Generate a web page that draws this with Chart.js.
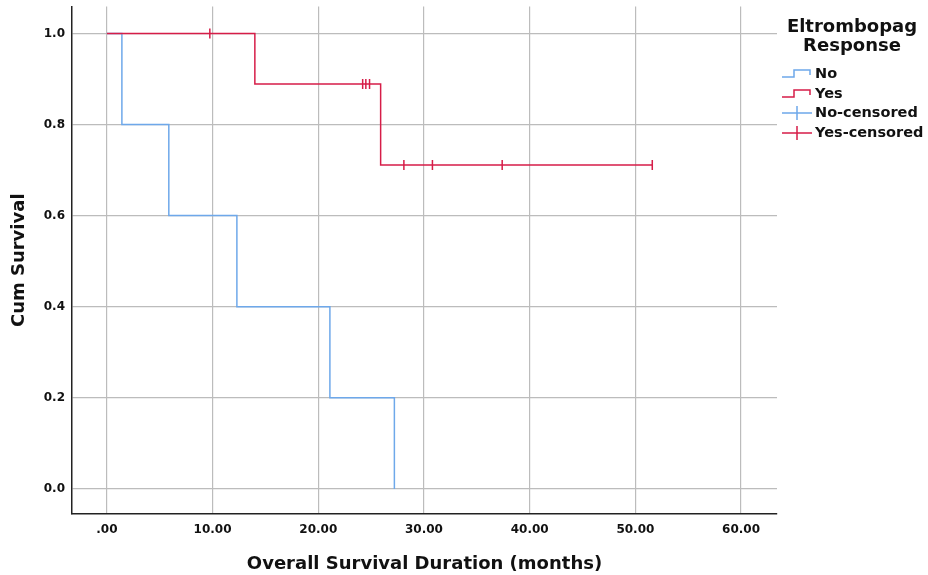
<!DOCTYPE html>
<html>
<head>
<meta charset="utf-8">
<script src="https://cdn.jsdelivr.net/npm/chart.js@4.4.1/dist/chart.umd.min.js"></script>
<style>
  html, body { margin: 0; padding: 0; background: #fff; }
  #wrap { width: 928px; height: 575px; position: relative; }
</style>
</head>
<body>
<div id="wrap"><canvas id="km"></canvas></div>
<script>
// ─── Data ────────────────────────────────────────────────────
const noTimes = [0, 1.42, 5.86, 12.3, 21.1, 27.2];
const noSurv = [1.0, 0.8, 0.6, 0.4, 0.2, 0.0];
const yesTimes = [0, 14.0, 25.9, 51.6];
const yesSurv = [1.0, 0.889, 0.711, 0.711];
const yesCensTimes = [9.74, 24.2, 24.5, 24.85, 28.1, 30.8, 37.4, 51.6];
const yesCensSurv = [1.0, 0.889, 0.889, 0.889, 0.711, 0.711, 0.711, 0.711];
const xTicks = [0, 10, 20, 30, 40, 50, 60];
const yTicks = [0, 0.2, 0.4, 0.6, 0.8, 1.0];
const legendLabels = ['No', 'Yes', 'No-censored', 'Yes-censored'];

const BLUE = '#6ea8ea';
const RED = '#d61d48';
const GRID = '#bcbcbc';
const FONT = "'DejaVu Sans', sans-serif";

const pts = (xs, ys) => xs.map((x, i) => ({ x, y: ys[i] }));

// ─── Legend drawn on the canvas ──────────────────────────────
const kmLegend = {
  id: 'kmLegend',
  afterDraw(chart) {
    const { ctx } = chart;
    ctx.save();
    ctx.fillStyle = '#111';
    ctx.textAlign = 'center';
    ctx.textBaseline = 'middle';
    ctx.font = `bold 18px ${FONT}`;
    ctx.fillText('Eltrombopag', 852, 27);
    ctx.fillText('Response', 852, 46);

    const rows = [74, 94, 113, 133];
    ctx.lineWidth = 1.5;
    // No / Yes step samples
    [[BLUE, rows[0]], [RED, rows[1]]].forEach(([c, y]) => {
      ctx.strokeStyle = c;
      ctx.beginPath();
      ctx.moveTo(782, y + 3);
      ctx.lineTo(794, y + 3);
      ctx.lineTo(794, y - 4);
      ctx.lineTo(810, y - 4);
      ctx.lineTo(810, y + 1);
      ctx.stroke();
    });
    // censored samples
    [[BLUE, rows[2]], [RED, rows[3]]].forEach(([c, y]) => {
      ctx.strokeStyle = c;
      ctx.beginPath();
      ctx.moveTo(782, y);
      ctx.lineTo(812, y);
      ctx.moveTo(797, y - 7);
      ctx.lineTo(797, y + 7);
      ctx.stroke();
    });

    ctx.fillStyle = '#111';
    ctx.textAlign = 'left';
    ctx.font = `bold 14.5px ${FONT}`;
    legendLabels.forEach((t, i) => ctx.fillText(t, 815, rows[i]));
    ctx.restore();
  }
};

new Chart(document.getElementById('km'), {
  type: 'scatter',
  data: {
    datasets: [
      {
        label: 'Yes-censored',
        data: pts(yesCensTimes, yesCensSurv),
        pointStyle: 'line',
        rotation: 90,
        radius: 5,
        borderWidth: 1.5,
        borderColor: RED,
        backgroundColor: RED,
        showLine: false,
        order: 0
      },
      {
        label: 'Yes',
        data: pts(yesTimes, yesSurv),
        showLine: true,
        stepped: 'before',
        borderColor: RED,
        borderWidth: 1.5,
        pointRadius: 0,
        order: 1
      },
      {
        label: 'No',
        data: pts(noTimes, noSurv),
        showLine: true,
        stepped: 'before',
        borderColor: BLUE,
        borderWidth: 1.5,
        pointRadius: 0,
        order: 2
      }
    ]
  },
  options: {
    responsive: true,
    maintainAspectRatio: false,
    animation: false,
    layout: { padding: { top: 6, right: 151, left: 0, bottom: 0 } },
    plugins: {
      legend: { display: false },
      tooltip: { enabled: false }
    },
    scales: {
      x: {
        type: 'linear',
        min: -3.3,
        max: 63.4,
        afterFit: s => { s.height = 61; },
        afterBuildTicks: s => { s.ticks = xTicks.map(v => ({ value: v })); },
        grid: { color: GRID, lineWidth: 1.2, drawTicks: false },
        border: { display: true, color: '#222', width: 1.5 },
        ticks: {
          padding: 9,
          color: '#111',
          font: { family: FONT, size: 12, weight: 'bold' },
          callback: v => v === 0 ? '.00' : v.toFixed(2)
        },
        title: {
          display: true,
          text: 'Overall Survival Duration (months)',
          color: '#111',
          font: { family: FONT, size: 18, weight: 'bold' },
          padding: { top: 0, bottom: 0 }
        }
      },
      y: {
        type: 'linear',
        min: -0.055,
        max: 1.059,
        afterFit: s => { s.width = 72; s.paddingTop = 0; s.paddingBottom = 0; },
        afterBuildTicks: s => { s.ticks = yTicks.map(v => ({ value: v })); },
        grid: { color: GRID, lineWidth: 1.2, drawTicks: false },
        border: { display: true, color: '#222', width: 1.5 },
        ticks: {
          padding: 7,
          color: '#111',
          font: { family: FONT, size: 12, weight: 'bold' },
          callback: v => v.toFixed(1)
        },
        title: {
          display: true,
          text: 'Cum Survival',
          color: '#111',
          font: { family: FONT, size: 18, weight: 'bold' },
          padding: { top: 9, bottom: 0 }
        }
      }
    }
  },
  plugins: [kmLegend]
});
</script>
</body>
</html>
